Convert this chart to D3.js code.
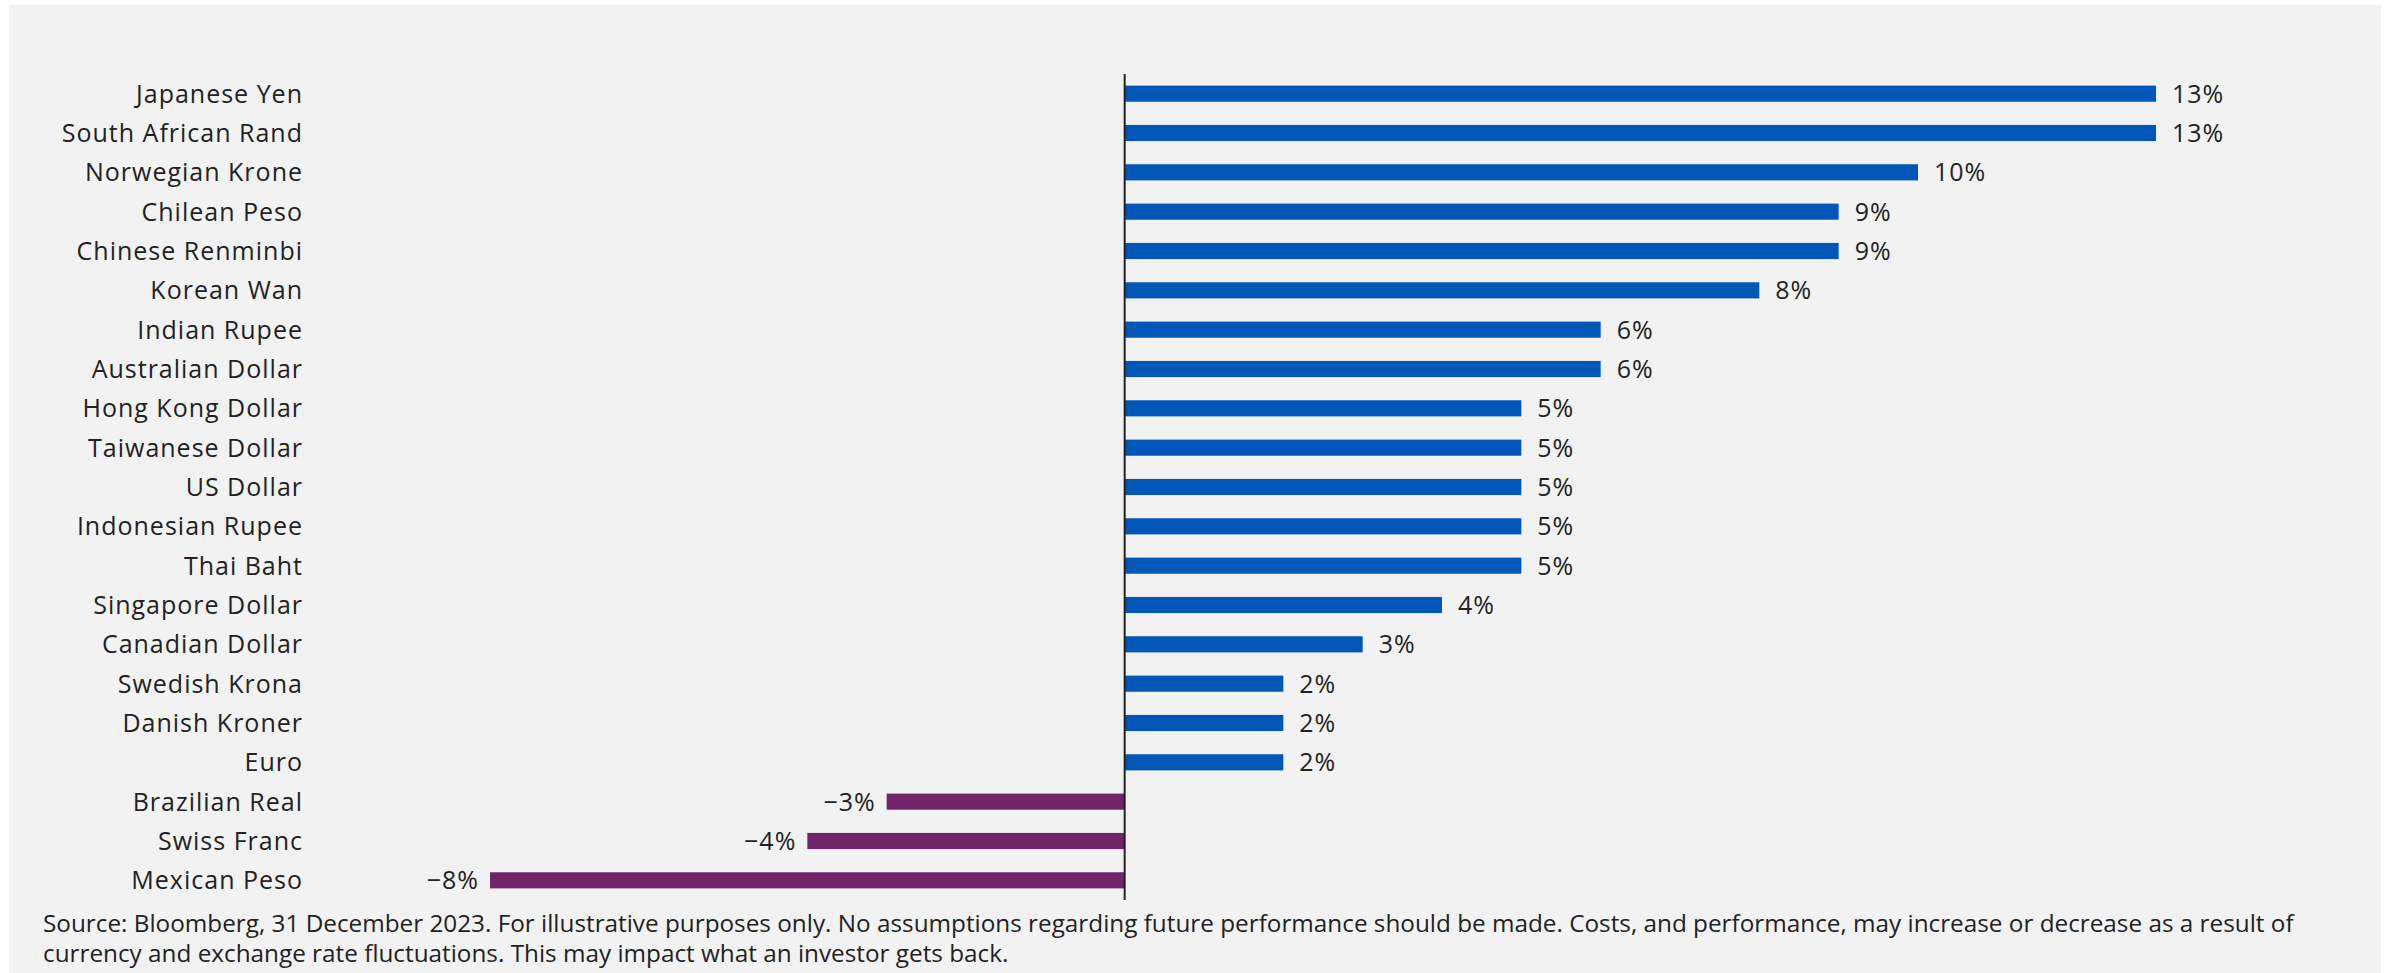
<!DOCTYPE html>
<html>
<head>
<meta charset="utf-8">
<script src="https://cdn.jsdelivr.net/npm/d3@7"></script>
<style>
  html, body { margin: 0; padding: 0; background: #ffffff; }
  svg { display: block; }
</style>
</head>
<body>
<svg id="chart" width="2395" height="973"></svg>
<script>
// Currency returns against sterling, 2023
const currencies = [
  "Japanese Yen", "South African Rand", "Norwegian Krone", "Chilean Peso",
  "Chinese Renminbi", "Korean Wan", "Indian Rupee", "Australian Dollar",
  "Hong Kong Dollar", "Taiwanese Dollar", "US Dollar", "Indonesian Rupee",
  "Thai Baht", "Singapore Dollar", "Canadian Dollar", "Swedish Krona",
  "Danish Kroner", "Euro", "Brazilian Real", "Swiss Franc", "Mexican Peso"
];
const returns = [13, 13, 10, 9, 9, 8, 6, 6, 5, 5, 5, 5, 5, 4, 3, 2, 2, 2, -3, -4, -8];
const footnoteLines = [
  "Source: Bloomberg, 31 December 2023. For illustrative purposes only. No assumptions regarding future performance should be made. Costs, and performance, may increase or decrease as a result of",
  "currency and exchange rate fluctuations. This may impact what an investor gets back."
];

const W = 2395, H = 973;
const svg = d3.select("#chart");

// grey panel
svg.append("rect")
  .attr("x", 9).attr("y", 5)
  .attr("width", 2372).attr("height", H - 5)
  .attr("fill", "#f2f2f2");

const data = currencies.map((c, i) => ({ name: c, value: returns[i] }));

const x = d3.scaleLinear().domain([-8, 13]).range([490, 2156]);
const y = d3.scaleBand().domain(currencies).range([74, 900]).paddingInner(0.59).paddingOuter(0.295);

const labelFont = "'Open Sans', Lato, sans-serif";

// bars
svg.append("g").selectAll("rect")
  .data(data)
  .join("rect")
  .attr("x", d => x(Math.min(0, d.value)))
  .attr("y", d => y(d.name))
  .attr("width", d => Math.abs(x(d.value) - x(0)))
  .attr("height", y.bandwidth())
  .attr("fill", d => d.value >= 0 ? "#0057b8" : "#722469");

// zero line
svg.append("line")
  .attr("x1", x(0)).attr("x2", x(0))
  .attr("y1", 74).attr("y2", 900)
  .attr("stroke", "#222").attr("stroke-width", 2);

// category axis on the left, no line or ticks
const yAxis = svg.append("g")
  .attr("transform", "translate(303,0)")
  .call(d3.axisLeft(y).tickSize(0).tickPadding(0));
yAxis.select(".domain").remove();
yAxis.selectAll("text")
  .attr("font-family", labelFont)
  .attr("font-size", 25)
  .attr("letter-spacing", 1)
  .attr("fill", "#222")
  .attr("dy", "0.36em");

// value labels
svg.append("g").selectAll("text")
  .data(data)
  .join("text")
  .attr("x", d => d.value >= 0 ? x(d.value) + 16 : x(d.value) - 11)
  .attr("y", d => y(d.name) + y.bandwidth() / 2)
  .attr("dy", "0.36em")
  .attr("text-anchor", d => d.value >= 0 ? "start" : "end")
  .attr("font-family", labelFont)
  .attr("font-size", 25)
  .attr("letter-spacing", 1)
  .attr("fill", "#222")
  .text(d => d3.format("d")(d.value).replace("-", "\u2013") + "%");

// footnote, sized so the first line spans the panel width
const foot = svg.append("g").selectAll("text")
  .data(footnoteLines)
  .join("text")
  .attr("x", 43)
  .attr("y", (d, i) => 932 + i * 30)
  .attr("font-family", labelFont)
  .attr("font-size", 22)
  .attr("fill", "#222")
  .text(d => d);
const firstWidth = foot.node().getComputedTextLength();
foot.attr("font-size", 22 * 2252 / firstWidth);
</script>
</body>
</html>
